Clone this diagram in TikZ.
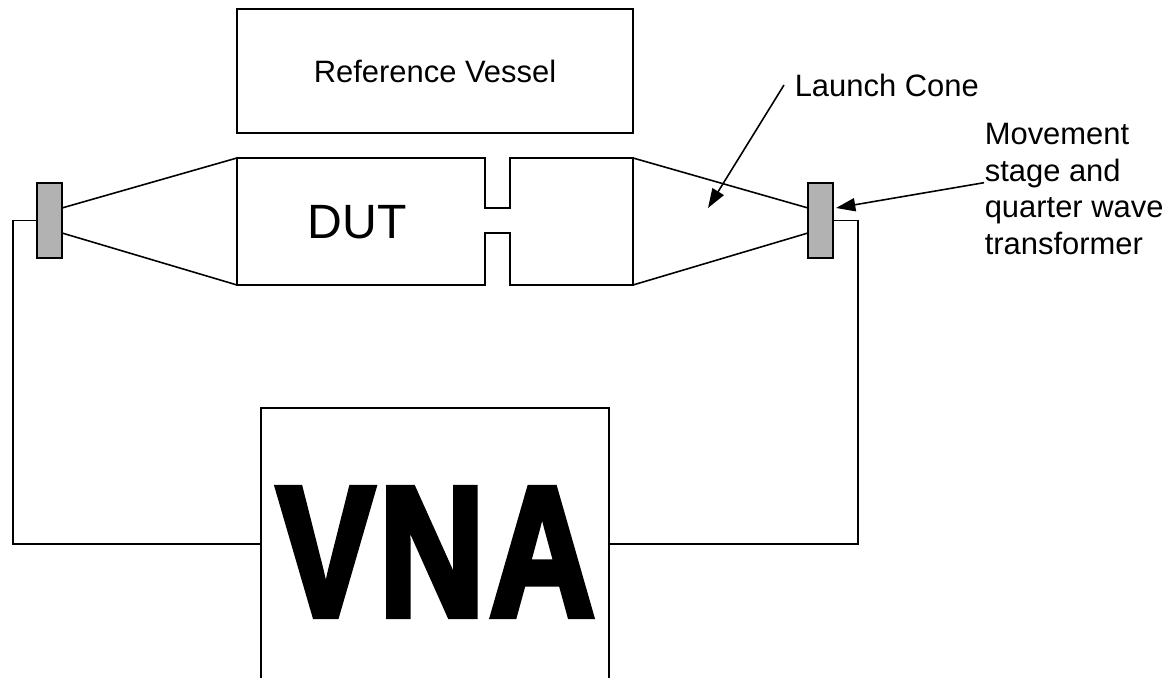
\documentclass[tikz,border=0pt]{standalone}
\usepackage{fontspec}
\setmainfont{Liberation Sans}
\newfontfamily\vnafont[FakeBold=4,LetterSpace=3.5]{Liberation Sans Bold}
\usepackage{tikz}
\usetikzlibrary{arrows.meta, positioning}

\definecolor{stagegray}{HTML}{B2B2B2}
\tikzset{
  box/.style={draw, rectangle, inner sep=0pt},
  stage/.style={box, fill=stagegray, minimum width=0.5cm, minimum height=1.5cm},
  wire/.style={draw, line width=0.9pt},
  pointer/.style={wire, -{Triangle[length=11pt,width=7.5pt]}},
  caption/.style={inner sep=0pt, font=\fontsize{17.6}{21}\selectfont, align=left}
}

\begin{document}
\begin{tikzpicture}[x=0.02cm,y=-0.02cm,line width=0.9pt]
    \useasboundingbox (0,0) rectangle (1169,678);

    \node[box, minimum width=7.92cm, minimum height=2.48cm] (vessel) at (435,71) {};
    \node[caption] (vessellabel) at (435,71) {Reference Vessel};

    \node[stage] (leftstage) at (49.5,220.5) {};
    \node[stage] (rightstage) at (820.5,220.5) {};
    \node[box, minimum width=6.96cm, minimum height=5.44cm] (vna) at (435,544) {};
    \node[inner sep=0pt] (vnalabel) at (436,552) {\scalebox{0.79}[1]{\vnafont\fontsize{105}{105}\selectfont VNA}};

    \node[inner sep=0pt, font=\fontsize{27.4}{30}\selectfont] (dut) at (357,222) {DUT};
    \node[caption, anchor=west] (launchlabel) at (794,85) {Launch Cone};
    \node[caption, anchor=west] (movelabel) at (984,189) {Movement\\stage and\\quarter wave\\transformer};

    \coordinate (lup) at (62,208);
    \coordinate (ldown) at (62,233);
    \coordinate (rup) at (808,208);
    \coordinate (rdown) at (808,233);
    \coordinate (dutnw) at (237,158);
    \coordinate (dutsw) at (237,285);
    \coordinate (dutne) at (633,158);
    \coordinate (dutse) at (633,285);
    \coordinate (conetip) at (708,208);
    \coordinate (stagetip) at (836,208);

    % DUT body with the iris
    \draw (dutnw) -- (485,158) -- (485,208) -- (510,208) -- (510,158) -- (dutne)
      -- (dutse) -- (510,285) -- (510,233) -- (485,233) -- (485,285) -- (dutsw) -- cycle;

    \path[wire]
    (lup) edge (dutnw)
    (ldown) edge (dutsw)
    (dutne) edge (rup)
    (dutse) edge (rdown)
    ;

    \draw (leftstage.west) -- (13,220.5) -- (13,544) -- (vna.west);
    \draw (rightstage.east) -- (858,220.5) -- (858,544) -- (vna.east);

    \draw[pointer] (launchlabel.west) ++(-10,0) -- (conetip);
    \draw[pointer] (movelabel.176) -- (stagetip);
  \end{tikzpicture}
\end{document}
